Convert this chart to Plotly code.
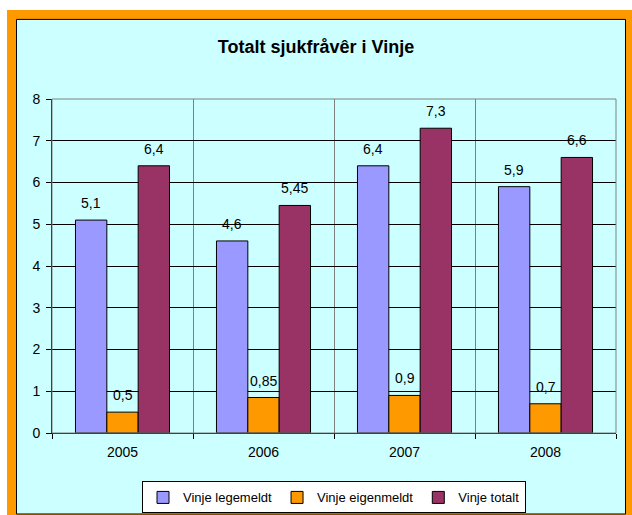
import plotly.graph_objects as go

# data
years = ["2005", "2006", "2007", "2008"]
legemeldt = [5.1, 4.6, 6.4, 5.9]
eigenmeldt = [0.5, 0.85, 0.9, 0.7]
totalt = [6.4, 5.45, 7.3, 6.6]

series = [
    ("Vinje legemeldt", legemeldt, "#9999FF"),
    ("Vinje eigenmeldt", eigenmeldt, "#FF9900"),
    ("Vinje totalt", totalt, "#993366"),
]

W, H = 632, 515
L, R, T, B = 52, 16, 99, 82.4
pw, ph = W - L - R, H - T - B


def px(x):
    return (x - L) / pw


def py(y):
    return (H - B - y) / ph


def fmt(v):
    return ("%g" % v).replace(".", ",")


fig = go.Figure()
bargap = 0.333
bw = (1 - bargap) / len(series)

for i, (name, vals, color) in enumerate(series):
    fig.add_trace(go.Bar(
        x=years, y=vals, name=name,
        marker=dict(color=color, line=dict(color="black", width=1)),
        hoverinfo="skip"))
    off = (i - 1) * bw
    for j, v in enumerate(vals):
        fig.add_annotation(
            x=j + off, y=v, text=fmt(v), showarrow=False,
            xref="x", yref="y", yanchor="middle", yshift=17,
            font=dict(family="Arial", size=14, color="black"))

# orange frame + cyan chart area
fig.add_shape(type="rect", xref="paper", yref="paper", layer="below",
              x0=px(7), x1=px(660), y0=py(540), y1=py(10),
              fillcolor="#FF9900", line=dict(width=0))
fig.add_shape(type="rect", xref="paper", yref="paper", layer="below",
              x0=px(16.5), x1=px(625.5), y0=py(513.5), y1=py(19.5),
              fillcolor="#CCFFFF", line=dict(color="black", width=1))
# gray plot border (top / right)
fig.add_shape(type="rect", xref="paper", yref="paper",
              x0=0, x1=1, y0=0, y1=1,
              line=dict(color="#808080", width=1))

fig.update_layout(
    width=W, height=H,
    margin=dict(l=L, r=R, t=T, b=B, autoexpand=False),
    paper_bgcolor="white",
    plot_bgcolor="white",
    barmode="group", bargap=bargap, bargroupgap=0,
    font=dict(family="Arial", size=14, color="black"),
    title=dict(text="<b>Totalt sjukfråvêr i Vinje</b>", x=0.5, xanchor="center",
               y=1 - 47 / H, yanchor="middle",
               font=dict(family="Arial", size=18, color="black")),
    legend=dict(orientation="h", x=0.5, xanchor="center", y=py(481), yanchor="top",
                bgcolor="white", bordercolor="black", borderwidth=1,
                font=dict(family="Arial", size=13), itemclick=False,
                itemwidth=30, tracegroupgap=0),
    xaxis=dict(tickson="boundaries", ticks="outside", ticklen=5, tickcolor="black",
               ticklabelstandoff=6,
               showgrid=True, gridcolor="#808080", gridwidth=1,
               showline=True, linecolor="black", linewidth=1),
    yaxis=dict(range=[0, 8], dtick=1, ticks="outside", ticklen=5, tickcolor="black",
               ticklabelstandoff=3,
               showgrid=True, gridcolor="black", gridwidth=1, zeroline=False,
               showline=True, linecolor="black", linewidth=1),
)

fig.write_html("out.html", config={"displayModeBar": False},
               post_script="document.body.style.margin='0';")
